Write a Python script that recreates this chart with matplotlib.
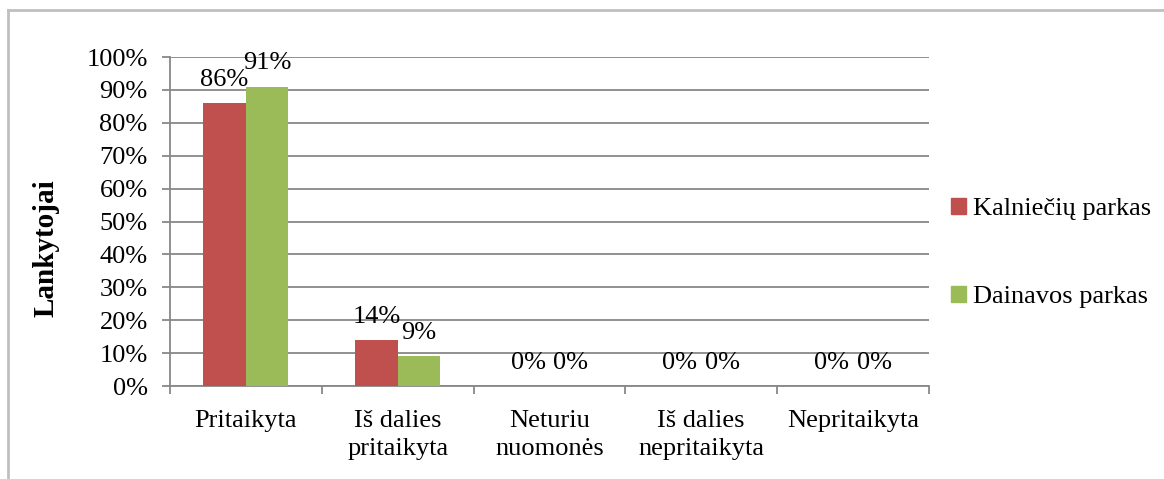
import numpy as np
import matplotlib.pyplot as plt
from matplotlib.lines import Line2D
from matplotlib.patches import Patch
from matplotlib.ticker import FuncFormatter

plt.rcParams['font.family'] = ['Liberation Serif', 'DejaVu Serif']

categories = ["Pritaikyta", "Iš dalies\npritaikyta", "Neturiu\nnuomonės",
              "Iš dalies\nnepritaikyta", "Nepritaikyta"]
kalnieciu = [86, 14, 0, 0, 0]
dainavos = [91, 9, 0, 0, 0]
series_names = ["Kalniečių parkas", "Dainavos parkas"]
colors = ["#C0504D", "#9BBB59"]

fig = plt.figure(figsize=(11.64, 4.79), dpi=100)
ax = fig.add_axes([0.146, 0.194, 0.652, 0.687])

x = np.arange(len(categories))
w = 0.28
b1 = ax.bar(x - w / 2, kalnieciu, w, color=colors[0], zorder=3)
b2 = ax.bar(x + w / 2, dainavos, w, color=colors[1], zorder=3)
ax.bar_label(b1, labels=[f"{v}%" for v in kalnieciu], fontsize=19, padding=9)
ax.bar_label(b2, labels=[f"{v}%" for v in dainavos], fontsize=19, padding=9)

ax.set_xlim(-0.5, len(categories) - 0.5)
ax.set_ylim(0, 100)
ax.set_yticks(np.arange(0, 101, 10))
ax.yaxis.set_major_formatter(FuncFormatter(lambda v, p: f"{v:.0f}%"))
ax.grid(axis='y', color='#888888', linewidth=1.3, zorder=0)

ax.set_xticks(x)
ax.set_xticklabels(categories, fontsize=19, linespacing=1.4)
ax.tick_params(axis='x', length=0, pad=17)
ax.set_xticks(np.arange(-0.5, len(categories), 1), minor=True)
ax.tick_params(axis='x', which='minor', length=6, color='#888888', width=1.3)
ax.tick_params(axis='y', labelsize=19, length=6, color='#888888', width=1.3, pad=10)

for s in ['top', 'right']:
    ax.spines[s].set_visible(False)
for s in ['left', 'bottom']:
    ax.spines[s].set_color('#888888')
    ax.spines[s].set_linewidth(1.3)

ax.set_ylabel("Lankytojai", fontsize=21, fontweight='bold')
ax.yaxis.set_label_coords(-0.145, 0.42)

handles = [Patch(color=c) for c in colors]
fig.legend(handles, series_names, loc='center left', bbox_to_anchor=(0.797, 0.472),
           frameon=False, fontsize=19, handlelength=0.55, handleheight=0.55,
           handletextpad=0.25, labelspacing=2.5)

# chart frame (only top and left visible)
fig.add_artist(Line2D([0.007, 1.0], [0.979, 0.979], transform=fig.transFigure,
                      color='#c0c0c0', linewidth=2))
fig.add_artist(Line2D([0.007, 0.007], [0.0, 0.979], transform=fig.transFigure,
                      color='#c0c0c0', linewidth=2))

fig.savefig("out.png", dpi=100)
